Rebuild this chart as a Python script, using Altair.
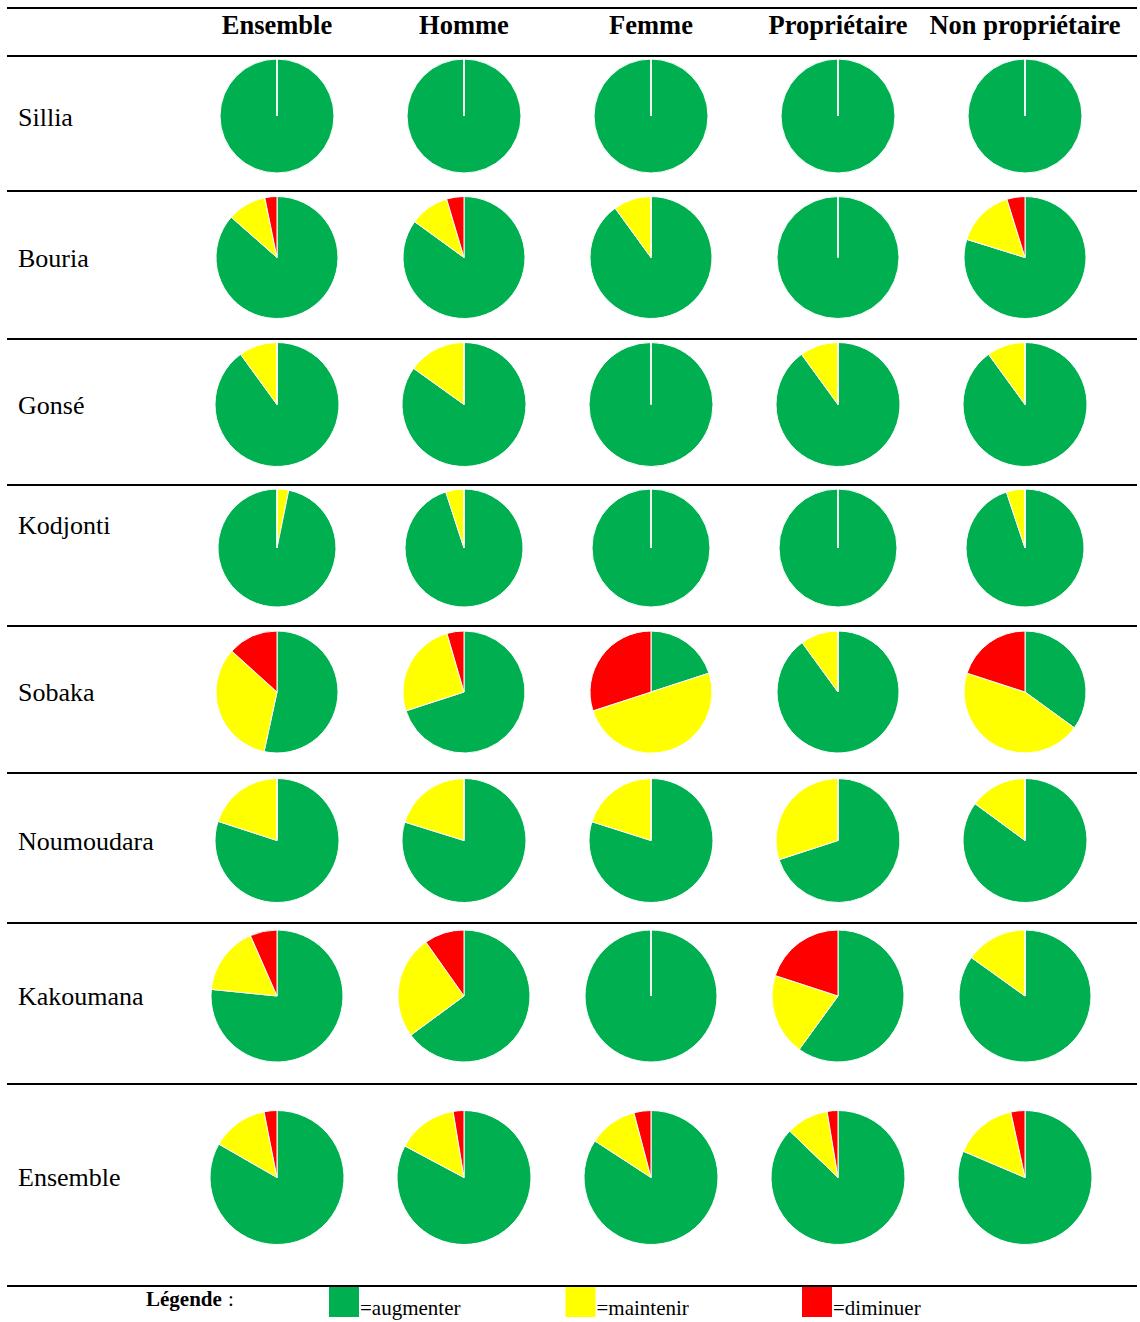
import math

import altair as alt
import pandas as pd

# ---------------------------------------------------------------------------
# Data: share of answers per village (rows) and respondent group (columns)
# ---------------------------------------------------------------------------
ROWS = ["Sillia", "Bouria", "Gonsé", "Kodjonti", "Sobaka", "Noumoudara", "Kakoumana", "Ensemble"]
COLS = ["Ensemble", "Homme", "Femme", "Propriétaire", "Non propriétaire"]
CATEGORIES = ["augmenter", "maintenir", "diminuer"]
COLORS = ["#00B050", "#FFFF00", "#FF0000"]

# percentages, one value per column (Ensemble, Homme, Femme, Propriétaire, Non propriétaire)
AUGMENTER = {
    "Sillia": [100, 100, 100, 100, 100],
    "Bouria": [86.5, 85.0, 90.0, 100, 79.8],
    "Gonsé": [90.0, 84.9, 100, 90.0, 90.0],
    "Kodjonti": [96.8, 95.0, 100, 100, 94.9],
    "Sobaka": [53.4, 70.0, 20.0, 90.0, 35.0],
    "Noumoudara": [80.0, 79.8, 79.9, 70.0, 85.1],
    "Kakoumana": [76.6, 64.9, 100, 60.0, 84.9],
    "Ensemble": [83.3, 82.8, 84.2, 87.2, 81.4],
}
MAINTENIR = {
    "Sillia": [0, 0, 0, 0, 0],
    "Bouria": [10.3, 10.4, 10.0, 0, 15.4],
    "Gonsé": [10.0, 15.1, 0, 10.0, 10.0],
    "Kodjonti": [3.2, 5.0, 0, 0, 5.1],
    "Sobaka": [33.3, 25.5, 50.0, 10.0, 45.0],
    "Noumoudara": [20.0, 20.2, 20.1, 30.0, 14.9],
    "Kakoumana": [16.8, 25.3, 0, 20.0, 15.1],
    "Ensemble": [13.6, 14.6, 11.7, 10.2, 15.2],
}
DIMINUER = {
    "Sillia": [0, 0, 0, 0, 0],
    "Bouria": [3.2, 4.6, 0, 0, 4.8],
    "Gonsé": [0, 0, 0, 0, 0],
    "Kodjonti": [0, 0, 0, 0, 0],
    "Sobaka": [13.3, 4.5, 30.0, 0, 20.0],
    "Noumoudara": [0, 0, 0, 0, 0],
    "Kakoumana": [6.6, 9.8, 0, 20.0, 0],
    "Ensemble": [3.1, 2.6, 4.1, 2.6, 3.4],
}
# pies whose slices start with "maintenir" instead of "augmenter"
MAINTENIR_FIRST = {("Kodjonti", "Ensemble")}

# ---------------------------------------------------------------------------
# Table layout
# ---------------------------------------------------------------------------
TABLE_W = 1140
HEADER_H = 56
ROW_HEIGHTS = [135, 148, 146, 141, 147, 150, 161, 202]
PIE_RADIUS = [57, 61, 62, 59, 61, 62, 66, 67]
LABEL_DY = [2.5, 2, 2, -21.5, 1.5, 2, 1.5, 1]
LEGEND_H = 36
RULE_X = (7, 1137)
FONT = "Liberation Serif"
NO_FRAME = alt.ViewBackground(stroke="transparent", strokeWidth=0)

col_x = alt.Scale(type="point", domain=COLS, range=[277, 1025], padding=0)
cat_color = alt.Scale(domain=CATEGORIES, range=COLORS)

# slice start / end (percent of the full turn) for every pie
records = []
for r in ROWS:
    for j, c in enumerate(COLS):
        vals = {"augmenter": AUGMENTER[r][j], "maintenir": MAINTENIR[r][j], "diminuer": DIMINUER[r][j]}
        order = ["maintenir", "augmenter", "diminuer"] if (r, c) in MAINTENIR_FIRST else CATEGORIES
        acc = 0.0
        for cat in order:
            records.append({"row": r, "col": c, "cat": cat, "start": acc, "end": acc + vals[cat]})
            acc += vals[cat]
slices = pd.DataFrame(records)


def rule_at(y):
    return (
        alt.Chart(pd.DataFrame({"k": [0]}))
        .mark_rule(color="black", strokeWidth=2)
        .encode(x=alt.value(RULE_X[0]), x2=alt.value(RULE_X[1]), y=alt.value(y))
    )


# header line with the column titles
header_text = (
    alt.Chart(pd.DataFrame({"col": COLS}))
    .mark_text(font=FONT, fontSize=26.5, fontWeight="bold", baseline="alphabetic", color="black")
    .encode(x=alt.X("col:N", scale=col_x, axis=None), y=alt.value(34), text="col:N")
)
header = alt.layer(header_text, rule_at(8), rule_at(HEADER_H)).properties(
    width=TABLE_W, height=HEADER_H, view=NO_FRAME
)

# one table row per village
row_charts = []
for i, r in enumerate(ROWS):
    h = ROW_HEIGHTS[i]
    label = (
        alt.Chart(pd.DataFrame({"row": [r]}))
        .mark_text(font=FONT, fontSize=26, align="left", baseline="alphabetic", color="black")
        .encode(x=alt.value(18), y=alt.value(h / 2 + LABEL_DY[i]), text="row:N")
    )
    pies = (
        alt.Chart(slices)
        .transform_filter(alt.datum.row == r)
        .mark_arc(outerRadius=PIE_RADIUS[i], stroke="white", strokeWidth=1)
        .encode(
            x=alt.X("col:N", scale=col_x, axis=None),
            y=alt.value(h / 2 - 7.5),
            theta=alt.Theta("start:Q", scale=alt.Scale(domain=[0, 100], range=[0, 2 * math.pi])),
            theta2="end:Q",
            color=alt.Color("cat:N", scale=cat_color, legend=None),
        )
    )
    row_charts.append(
        alt.layer(label, pies, rule_at(h)).properties(width=TABLE_W, height=h, view=NO_FRAME)
    )

# key under the table
legend_df = pd.DataFrame({"cat": CATEGORIES})
key_x = alt.Scale(type="point", domain=CATEGORIES, range=[344, 817], padding=0)
key_boxes = (
    alt.Chart(legend_df)
    .mark_square(size=900, opacity=1)
    .encode(
        x=alt.X("cat:N", scale=key_x, axis=None),
        y=alt.value(16),
        color=alt.Color("cat:N", scale=cat_color, legend=None),
    )
)
key_labels = (
    alt.Chart(legend_df)
    .transform_calculate(label="'=' + datum.cat")
    .mark_text(font=FONT, fontSize=21, align="left", baseline="alphabetic", dx=16, color="black")
    .encode(x=alt.X("cat:N", scale=key_x, axis=None), y=alt.value(29), text="label:N")
)
key_title = (
    alt.Chart(pd.DataFrame({"t": ["Légende"]}))
    .mark_text(font=FONT, fontSize=21, fontWeight="bold", align="left", baseline="alphabetic", color="black")
    .encode(x=alt.value(146), y=alt.value(20), text="t:N")
)
key_colon = (
    alt.Chart(pd.DataFrame({"t": [":"]}))
    .mark_text(font=FONT, fontSize=21, align="left", baseline="alphabetic", color="black")
    .encode(x=alt.value(228), y=alt.value(20), text="t:N")
)
legend = alt.layer(key_title, key_colon, key_boxes, key_labels).properties(
    width=TABLE_W, height=LEGEND_H, view=NO_FRAME
)

chart = (
    alt.vconcat(header, *row_charts, legend, spacing=0, bounds="flush", padding=0)
    .configure_view(stroke="transparent", strokeWidth=0)
    .configure(background="white")
)

chart.save("out.html", embed_options={"renderer": "svg", "actions": False})
